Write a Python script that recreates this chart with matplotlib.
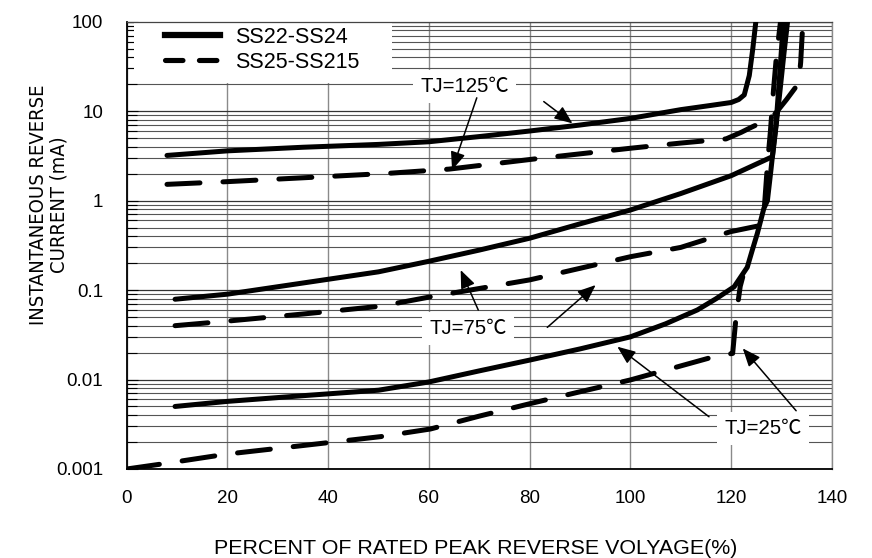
import numpy as np
import matplotlib
matplotlib.use('Agg')
import matplotlib.pyplot as plt
from matplotlib.lines import Line2D
from matplotlib.patches import Rectangle
from matplotlib.ticker import LogLocator, NullFormatter
from matplotlib import font_manager

plt.rcParams['font.family'] = ['Liberation Sans', 'Noto Sans CJK SC', 'DejaVu Sans']
# the y title of the original is set in a narrow face
narrow = [f.name for f in font_manager.fontManager.ttflist if f.name == 'Liberation Sans Narrow']
ylab_family = ['Liberation Sans Narrow'] if narrow else ['DejaVu Sans', 'Liberation Sans']
ylab_stretch = 'condensed' if not narrow else 'normal'

# percent of rated peak reverse voltage vs reverse current (mA)
x_s125 = [8, 20, 35, 50, 60, 70, 80, 90, 100, 110, 116, 120, 121.5, 122.6, 123.6, 124.3, 124.9, 125.2]
i_s125 = [3.2, 3.6, 3.95, 4.25, 4.55, 5.2, 6.0, 7.0, 8.3, 10.4, 11.6, 12.5, 13.5, 15.2, 25, 50, 100, 130]
x_d125 = [8, 20, 35, 52, 64, 82, 100, 110, 119, 122, 124, 126.3, 128.5, 131, 133.4, 133.8, 134.2, 134.5]
i_d125 = [1.52, 1.63, 1.8, 2.02, 2.25, 2.97, 3.85, 4.4, 4.9, 5.8, 6.6, 7.6, 9.0, 13.5, 20.5, 35, 90, 120]

x_s75 = [9.6, 20, 35, 50, 60, 70, 80, 90, 100, 110, 120, 128.2, 128.8, 129.6, 130.5, 131.2, 131.4]
i_s75 = [0.079, 0.09, 0.12, 0.16, 0.21, 0.28, 0.38, 0.55, 0.785, 1.2, 1.9, 3.1, 6, 15, 45, 100, 130]
x_d75 = [9.6, 20, 35, 50.4, 60.3, 80, 100, 110, 119.9, 126, 126.6, 127.2, 127.8, 128.4, 129.0, 129.8, 130]
i_d75 = [0.04, 0.045, 0.054, 0.066, 0.084, 0.13, 0.236, 0.30, 0.45, 0.53, 0.85, 2.5, 6, 17, 42, 100, 130]

x_s25 = [9.6, 20, 35, 50, 60, 70, 80, 90, 100, 107, 113.3, 117, 120.6, 123.2, 124.2, 125.2, 126.5, 127.2,
         127.9, 128.5, 128.9, 129.5, 130.1, 130.4]
i_s25 = [0.005, 0.0057, 0.0066, 0.0076, 0.0094, 0.0125, 0.0165, 0.022, 0.030, 0.042, 0.06, 0.08, 0.109, 0.18,
         0.28, 0.43, 0.82, 1.0, 2.2, 4.5, 7, 20, 60, 130]
x_d25 = [0, 6.6, 20, 35, 50.4, 60.3, 70, 80.2, 90, 100, 110, 116.6, 120.3, 121, 121.8, 122.3]
i_d25 = [0.001, 0.00113, 0.00147, 0.00183, 0.0023, 0.0028, 0.0039, 0.0054, 0.0073, 0.0099, 0.0142, 0.018,
         0.0196, 0.052, 0.11, 0.14]

xticks = [0, 20, 40, 60, 80, 100, 120, 140]
yticks = [0.001, 0.01, 0.1, 1, 10, 100]
ytick_labels = ['0.001', '0.01', '0.1', '1', '10', '100']
series_names = ['SS22-SS24', 'SS25-SS215']

fig = plt.figure(figsize=(8.72, 5.58), dpi=100)
ax = fig.add_axes([0.1453, 0.1595, 0.8087, 0.8016])
ax.set_yscale('log')
ax.set_xlim(0, 140)
ax.set_ylim(0.001, 100)
ax.set_axisbelow(True)

ax.set_xticks(xticks)
ax.set_xticklabels([str(v) for v in xticks])
ax.set_yticks(yticks)
ax.set_yticklabels(ytick_labels)
ax.yaxis.set_minor_locator(LogLocator(base=10, subs=np.arange(2, 10)))
ax.yaxis.set_minor_formatter(NullFormatter())
ax.tick_params(axis='x', length=0, pad=15, labelsize=13.5)
ax.tick_params(axis='y', which='major', direction='in', length=8, width=0.8, pad=17, labelsize=13.5)
ax.tick_params(axis='y', which='minor', direction='in', length=7, width=0.8)

ax.grid(True, axis='x', which='major', color='#8a8a8a', lw=1.0)
ax.grid(True, axis='y', which='major', color='#333333', lw=0.9)
ax.grid(True, axis='y', which='minor', color='#555555', lw=0.8)

ax.spines['left'].set_color('black')
ax.spines['left'].set_linewidth(1.3)
ax.spines['bottom'].set_color('black')
ax.spines['bottom'].set_linewidth(1.3)
ax.spines['top'].set_color('#444444')
ax.spines['top'].set_linewidth(0.9)
ax.spines['right'].set_color('#8a8a8a')
ax.spines['right'].set_linewidth(1.0)

lw = 3.6
dash = (0, (6.6, 4.6))
for xs, ys in [(x_s125, i_s125), (x_s75, i_s75), (x_s25, i_s25)]:
    ax.plot(xs, ys, color='black', lw=lw, solid_capstyle='round', solid_joinstyle='round', zorder=3)
for xs, ys in [(x_d125, i_d125), (x_d75, i_d75), (x_d25, i_d25)]:
    ax.plot(xs, ys, color='black', lw=lw, ls=dash, dash_capstyle='round', zorder=3)

# white area behind the legend
ax.add_patch(Rectangle((0.011, 0.863), 0.365, 0.137, transform=ax.transAxes,
                       facecolor='white', edgecolor='none', zorder=1))
handles = [Line2D([], [], color='black', lw=4.5),
           Line2D([], [], color='black', lw=3.7, ls=(0, (3.4, 3.2)), dash_capstyle='round')]
ax.legend(handles, series_names, loc='upper left', bbox_to_anchor=(0.0543, 0.989), frameon=False,
          borderpad=0, borderaxespad=0, handlelength=2.56, handletextpad=0.7, labelspacing=0.2,
          fontsize=15.5)

box = dict(boxstyle='square,pad=0.35', facecolor='white', edgecolor='none')
arw = dict(arrowstyle='-|>,head_length=1.1,head_width=0.45', mutation_scale=10, color='black',
           lw=1.1, shrinkA=0, shrinkB=0)

ax.text(67.1, 18.7, 'TJ=125℃', fontsize=14.7, ha='center', va='center', bbox=box, zorder=4)
ax.annotate('', xy=(88.5, 7.3), xytext=(82.8, 12.8), arrowprops=arw, zorder=5)
ax.annotate('', xy=(64.6, 2.2), xytext=(69.5, 14.1), arrowprops=arw, zorder=5)

ax.text(67.8, 0.0373, 'TJ=75℃', fontsize=14.7, ha='center', va='center', bbox=box, zorder=4)
ax.annotate('', xy=(66.3, 0.1675), xytext=(69.8, 0.0598), arrowprops=arw, zorder=5)
ax.annotate('', xy=(93.1, 0.1138), xytext=(83.5, 0.0383), arrowprops=arw, zorder=5)

ax.text(126.4, 0.00285, 'TJ=25℃', fontsize=14.7, ha='center', va='center', bbox=box, zorder=4)
ax.annotate('', xy=(97.4, 0.0233), xytext=(115.6, 0.00384), arrowprops=arw, zorder=5)
ax.annotate('', xy=(122.3, 0.0223), xytext=(132.9, 0.00448), arrowprops=arw, zorder=5)

fig.text(476 / 872, 1 - 548 / 558, 'PERCENT OF RATED PEAK REVERSE VOLYAGE(%)', fontsize=15.4,
         ha='center', va='center')
fig.text(48.5 / 872, 1 - 205 / 558, 'INSTANTANEOUS REVERSE\nCURRENT (mA)', fontsize=14.5,
         family=ylab_family, stretch=ylab_stretch,
         ha='center', va='center', rotation=90, multialignment='center', linespacing=1.1)

fig.savefig('out.png', dpi=100)
